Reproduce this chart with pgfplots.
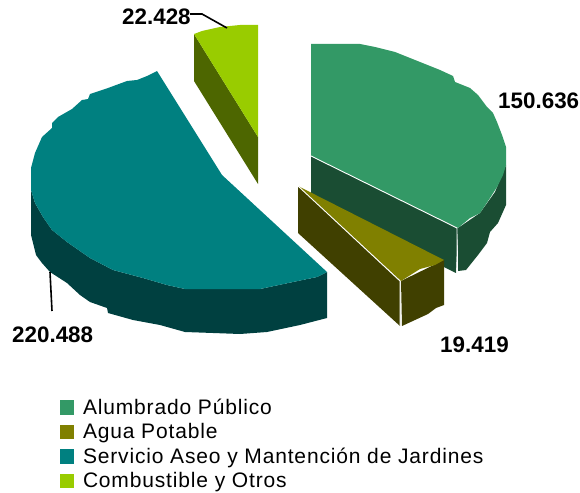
\documentclass[border=0pt]{standalone}
\usepackage{fontspec}
\setmainfont{Liberation Sans}
\usepackage{pgfplots}
\pgfplotsset{compat=1.18}
\definecolor{cgreen}{HTML}{339966}
\definecolor{dgreen}{HTML}{1A4D33}
\definecolor{colive}{HTML}{808000}
\definecolor{dolive}{HTML}{404000}
\definecolor{cteal}{HTML}{008080}
\definecolor{dteal}{HTML}{004040}
\definecolor{clime}{HTML}{99CC00}
\definecolor{dlime}{HTML}{4D6600}
\begin{document}
\begin{tikzpicture}
\useasboundingbox (0,0) rectangle (580pt,492pt);
\begin{axis}[
  at={(0,0)},anchor=south west,
  width=580pt,height=492pt,scale only axis,
  xmin=0,xmax=580,ymin=0,ymax=492,y dir=reverse,
  hide axis,clip=false,
  legend image code/.code={\fill[#1] (0pt,-7.5pt) rectangle (14pt,7pt);},
  legend cell align=left,
  legend style={at={(axis cs:60,397.5)},anchor=north west,draw=none,fill=none,
    font=\fontsize{21}{21}\selectfont\addfontfeature{LetterSpace=4},row sep=4.5pt,inner sep=0pt,outer sep=0pt,
    nodes={inner xsep=4pt,inner ysep=1.5pt},
    /tikz/column 1/.style={column sep=5pt}},
]
% --- Alumbrado Publico 150.636
\addplot[forget plot,fill=dgreen,draw=none] coordinates {(311,156)(458,228)(456,273)(311,201)} --cycle;
\addplot[forget plot,fill=dgreen,draw=none] coordinates {(458,228)(480,213)(495,192)(506,165)(506,205)(498,223)(490,232)(487,243)(478,255)(466,270)(458,271)} --cycle;
\addplot[fill=cgreen,draw=none] coordinates {(311,44)(360,44)(375,47)(395,52)(415,60)(440,70)(453,76)(455,82)(470,88)(478,95)(487,107)(493,113)(497,122)(502,135)(506,147)(506,165)(503,175)(497,187)(490,198)(480,213)(470,218)(458,228)(311,156)} --cycle;
\addlegendentry{Alumbrado Público}
\addplot[forget plot,white,line width=0.9pt] coordinates {(311,156)(457,228)(457,273)};
% --- Agua Potable 19.419
\addplot[forget plot,fill=dolive,draw=none] coordinates {(298,186)(400,281)(400,326)(298,233)} --cycle;
\addplot[forget plot,fill=dolive,draw=none] coordinates {(401,281)(444,260)(444,305)(436,308)(428,314)(402,326)} --cycle;
\addplot[fill=colive,draw=none] coordinates {(298,186)(444,260)(435,265)(420,269)(401,281)} --cycle;
\addlegendentry{Agua Potable}
\addplot[forget plot,white,line width=0.9pt] coordinates {(298,186)(400,281)(400,326)};
% --- Servicio Aseo 220.488
\addplot[forget plot,fill=dteal,draw=none] coordinates {(31,190)(35,203)(43,217)(52,230)(67,242)(90,258)(113,270)(143,278)(167,285)(185,289)(260,289)(293,282)(317,277)(327,272)(327,318)(300,325)(267,332)(240,334)(213,333)(185,332)(160,325)(133,320)(108,313)(107,308)(90,302)(80,295)(67,283)(50,272)(42,263)(36,255)(31,235)} --cycle;
\addplot[fill=cteal,draw=none] coordinates {(157,71)(222,175)(327,272)(317,277)(293,282)(260,289)(185,289)(167,285)(143,278)(113,270)(90,258)(67,242)(52,230)(43,217)(35,203)(31,190)(31,168)(35,153)(42,137)(52,128)(52,123)(58,117)(72,109)(82,100)(88,99)(90,94)(108,88)(127,81)(137,80)(147,76)} --cycle;
\addlegendentry{Servicio Aseo y Mantención de Jardines}
% --- Combustible 22.428
\addplot[forget plot,fill=dlime,draw=none] coordinates {(194,34)(258,137)(258,184)(194,81)} --cycle;
\addplot[fill=clime,draw=none] coordinates {(194,34)(202,31)(220,27)(240,25)(258,25)(258,137)} --cycle;
\addlegendentry{Combustible y Otros}
% --- leader lines
\addplot[forget plot,black,line width=1.6pt] coordinates {(190,14)(202,14)(227,28)};
\addplot[forget plot,black,line width=1.6pt] coordinates {(50,272)(52,311)};
% --- labels
\node[anchor=west,inner sep=0pt,font=\fontsize{22.4}{22.4}\selectfont\bfseries] at (axis cs:498,101) {150.636};
\node[anchor=west,inner sep=0pt,font=\fontsize{22.4}{22.4}\selectfont\bfseries] at (axis cs:440,345) {19.419};
\node[anchor=west,inner sep=0pt,font=\fontsize{22.4}{22.4}\selectfont\bfseries] at (axis cs:12,335) {220.488};
\node[anchor=west,inner sep=0pt,font=\fontsize{22.4}{22.4}\selectfont\bfseries] at (axis cs:122,17) {22.428};
\end{axis}
\end{tikzpicture}
\end{document}
